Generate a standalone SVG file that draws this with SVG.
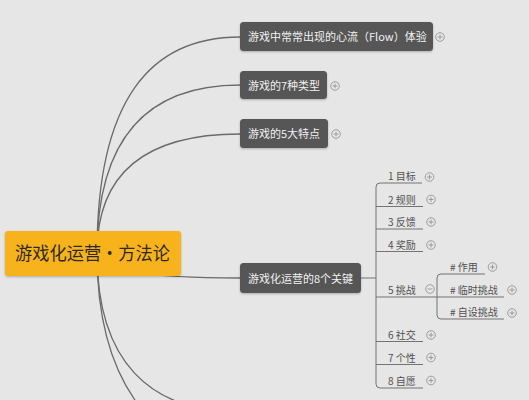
<svg xmlns="http://www.w3.org/2000/svg" width="529" height="400" viewBox="0 0 529 400">
<style>
.bg{fill:#e5e6e5}
.curve{fill:none;stroke:#6a6a6a;stroke-width:1.3}
.line{fill:none;stroke:#737373;stroke-width:1}
.node rect{fill:#575757}
.node text{font-family:"Noto Sans CJK SC","Liberation Sans",sans-serif;font-size:11px;fill:#f2f2f2}
.root rect{fill:#f8b31b}
.root text{font-family:"Noto Sans CJK SC","Liberation Sans",sans-serif;font-size:18.5px;fill:#2d2a22}
.sub text{font-family:"Noto Sans CJK SC","Liberation Sans",sans-serif;font-size:10px;fill:#505050}
.tog circle{fill:none;stroke:#8c8c8c;stroke-width:0.8}
.tog path{fill:none;stroke:#8c8c8c;stroke-width:0.8}
</style>
<defs>
<filter id="sh" x="-10%" y="-20%" width="120%" height="150%">
<feDropShadow dx="0" dy="1" stdDeviation="1" flood-color="#000" flood-opacity="0.25"/>
</filter>
<g id="plus" class="tog"><circle cx="0" cy="0" r="4.3"/><path d="M-2.4 0H2.4M0 -2.4V2.4"/></g>
<g id="minus" class="tog"><circle cx="0" cy="0" r="4.3"/><path d="M-2.4 0H2.4"/></g>
</defs>
<rect class="bg" x="0" y="0" width="529" height="400"/>

<g id="connectors">
<path class="curve" d="M97 253C97 100 150 37 240 37"/>
<path class="curve" d="M97 253C97 135 150 85 240 85"/>
<path class="curve" d="M97 253C97 170 150 134 240 134"/>
<path class="curve" d="M97 253C97 271 150 278 240 278"/>
<path class="curve" d="M97 253C97 375 150 455 240 455"/>
<path class="curve" d="M97 253C97 362 150 412 240 412"/>
<path class="line" d="M361 278H376"/>
<path class="line" d="M422 183H380Q376 183 376 187V384Q376 388 380 388H423"/>
<path class="line" d="M376 206.5H423M376 229H423M376 251.5H423M376 297H437M376 341.5H423M376 364.5H423"/>
<path class="line" d="M485 274H441Q437 274 437 278V315Q437 319 441 319H504M437 297H504"/>
</g>

<g id="root" class="root">
<rect x="5" y="231" width="176" height="45" rx="3" filter="url(#sh)"/>
<text x="15" y="260" textLength="155" lengthAdjust="spacingAndGlyphs">游戏化运营·方法论</text>
</g>

<g id="n1" class="node">
<rect x="240" y="22" width="193" height="29" rx="3.5" filter="url(#sh)"/>
<text x="248" y="41">游戏中常常出现的心流（Flow）体验</text>
<use href="#plus" x="440" y="37"/>
</g>
<g id="n2" class="node">
<rect x="240" y="71" width="87" height="28" rx="3.5" filter="url(#sh)"/>
<text x="248" y="89.5">游戏的7种类型</text>
<use href="#plus" x="335" y="86"/>
</g>
<g id="n3" class="node">
<rect x="240" y="119" width="88" height="29" rx="3.5" filter="url(#sh)"/>
<text x="248" y="138">游戏的5大特点</text>
<use href="#plus" x="336" y="134"/>
</g>
<g id="n4" class="node">
<rect x="240" y="263" width="121" height="30" rx="3.5" filter="url(#sh)"/>
<text x="248" y="282.5">游戏化运营的8个关键</text>
</g>

<g id="s1" class="sub"><text x="388" y="180">1 目标</text><use href="#plus" x="429.5" y="177"/></g>
<g id="s2" class="sub"><text x="388" y="203.5">2 规则</text><use href="#plus" x="431" y="199.5"/></g>
<g id="s3" class="sub"><text x="388" y="226">3 反馈</text><use href="#plus" x="431" y="222"/></g>
<g id="s4" class="sub"><text x="388" y="248.5">4 奖励</text><use href="#plus" x="431" y="245"/></g>
<g id="s5" class="sub"><text x="388" y="294">5 挑战</text><use href="#minus" x="430" y="289"/></g>
<g id="s6" class="sub"><text x="388" y="338.5">6 社交</text><use href="#plus" x="431" y="335"/></g>
<g id="s7" class="sub"><text x="388" y="361.5">7 个性</text><use href="#plus" x="431" y="357.5"/></g>
<g id="s8" class="sub"><text x="388" y="385">8 自愿</text><use href="#plus" x="431" y="380.5"/></g>

<g id="t1" class="sub"><text x="450" y="271"># 作用</text><use href="#plus" x="492.5" y="267"/></g>
<g id="t2" class="sub"><text x="450" y="294"># 临时挑战</text><use href="#plus" x="512" y="290"/></g>
<g id="t3" class="sub"><text x="450" y="316"># 自设挑战</text><use href="#plus" x="512" y="313"/></g>
</svg>
